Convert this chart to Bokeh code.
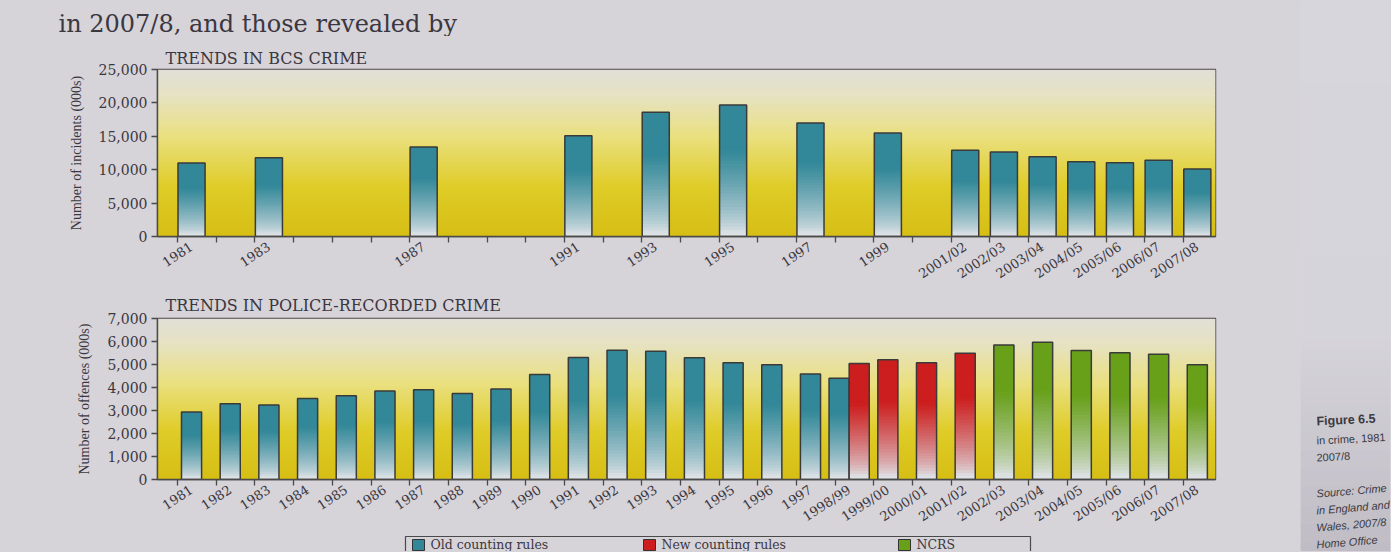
from bokeh.plotting import figure
from bokeh.models import Range1d, FixedTicker, NumeralTickFormatter, ColumnDataSource
from bokeh.layouts import column, row
from bokeh.embed import file_html
from bokeh.resources import INLINE
from bokeh.core.properties import value

# ---------------- data ----------------
intro_text = "in 2007/8, and those revealed by"
bcs_title = "TRENDS IN BCS CRIME"
prc_title = "TRENDS IN POLICE-RECORDED CRIME"
bcs_ylabel = "Number of incidents (000s)"
prc_ylabel = "Number of offences (000s)"

bcs_periods = ["1981", "1983", "1987", "1991", "1993", "1995", "1997", "1999",
               "2001/02", "2002/03", "2003/04", "2004/05", "2005/06", "2006/07", "2007/08"]
bcs_incidents = [11000, 11800, 13400, 15100, 18600, 19700, 17000, 15500,
                 12900, 12650, 11950, 11200, 11050, 11400, 10100]

prc_old_periods = ["1981", "1982", "1983", "1984", "1985", "1986", "1987", "1988", "1989",
                   "1990", "1991", "1992", "1993", "1994", "1995", "1996", "1997", "1998/99"]
prc_old_offences = [2940, 3290, 3240, 3520, 3640, 3850, 3900, 3740, 3930,
                    4560, 5300, 5620, 5580, 5290, 5080, 4990, 4590, 4400]
prc_new_periods = ["1998/99", "1999/00", "2000/01", "2001/02"]
prc_new_offences = [5040, 5210, 5080, 5490]
prc_ncrs_periods = ["2002/03", "2003/04", "2004/05", "2005/06", "2006/07", "2007/08"]
prc_ncrs_offences = [5850, 5970, 5610, 5510, 5450, 4990]

bcs_yticks = [0, 5000, 10000, 15000, 20000, 25000]
prc_yticks = [0, 1000, 2000, 3000, 4000, 5000, 6000, 7000]

legend_labels = ["Old counting rules", "New counting rules", "NCRS"]

caption_head = "Figure 6.5"
caption_lines = ["in crime, 1981", "2007/8"]
source_lines = ["Source: Crime", "in England and", "Wales, 2007/8", "Home Office"]

FIRST_YEAR = 1981
N_SLOTS = 27

# ---------------- styling / layout (pixels) ----------------
PAGE = "#d6d3d9"
INK = "#3b3740"
SERIF = "DejaVu Serif"
TEAL = (50, 136, 152)
RED = (204, 30, 30)
GREEN = (104, 160, 26)
LIGHT = (222, 226, 230)
BG_STOPS = [(0.0, (214, 190, 20)), (0.3, (223, 204, 40)), (0.6, (234, 224, 128)),
            (0.85, (230, 226, 196)), (1.0, (225, 223, 214))]
SIDE_STOPS = [(0.0, (216, 214, 221)), (0.6, (214, 212, 219)), (1.0, (192, 188, 197))]
TOTAL_W, TOTAL_H = 1390, 551
CHART_W = 1300
FRAME_L, FRAME_R = 157, 1215
INTRO_H = 36
Y_SPLIT = 290
P1_TOP, P1_BOT = 69, 238          # frame of the BCS chart (page pixels)
P2_TOP, P2_BOT = 318, 483         # frame of the police chart
LEG_TOP = 533


def slot(period):
    return int(period[:4]) - FIRST_YEAR


def hexc(c):
    return "#%02x%02x%02x" % tuple(int(round(v)) for v in c)


def mix(c1, c2, t):
    return tuple(a + (b - a) * t for a, b in zip(c1, c2))


def stop_color(stops, t):
    for (t0, c0), (t1, c1) in zip(stops[:-1], stops[1:]):
        if t <= t1:
            return mix(c0, c1, (t - t0) / (t1 - t0))
    return stops[-1][1]


def add_background(p, ymax, n=80):
    b, t, c = [], [], []
    for i in range(n):
        b.append(ymax * i / n)
        t.append(min(ymax, ymax * (i + 1.8) / n))
        c.append(hexc(stop_color(BG_STOPS, (i + 0.5) / n)))
    src = ColumnDataSource(dict(bottom=b, top=t, color=c))
    p.quad(left=p.x_range.start, right=p.x_range.end, bottom="bottom", top="top",
           fill_color="color", line_color=None, source=src)


def add_bars(p, periods, values, width, base, offsets=None, n=40):
    if offsets is None:
        offsets = [0.0] * len(periods)
    xs = [slot(q) + o for q, o in zip(periods, offsets)]
    L, R, B, T, C = [], [], [], [], []
    for x, v in zip(xs, values):
        for i in range(n):
            tt = (i + 0.5) / n
            f = min(1.0, max(0.0, (tt - 0.03) / 0.62)) ** 0.75
            L.append(x - width / 2)
            R.append(x + width / 2)
            B.append(v * i / n)
            T.append(min(v, v * (i + 1.8) / n))
            C.append(hexc(mix(LIGHT, base, f)))
    p.quad(left="l", right="r", bottom="b", top="t", fill_color="c", line_color=None,
           source=ColumnDataSource(dict(l=L, r=R, b=B, t=T, c=C)))
    p.quad(left=[x - width / 2 for x in xs], right=[x + width / 2 for x in xs],
           bottom=0, top=values, fill_color=None, line_color="#3a3a3a", line_width=1.5)


def make_fig(fig_top, fig_bot, frame_top, frame_bot, ymax, title, standoff):
    p = figure(width=CHART_W, height=fig_bot - fig_top, x_range=Range1d(-0.88, 26.47),
               y_range=Range1d(0, ymax), output_backend="svg", toolbar_location=None,
               min_border_left=FRAME_L, min_border_right=CHART_W - FRAME_R,
               min_border_top=frame_top - fig_top, min_border_bottom=fig_bot - frame_bot,
               title=title)
    p.border_fill_color = PAGE
    p.background_fill_color = None
    p.outline_line_color = "#4a4a4a"
    p.outline_line_width = 1.4
    p.grid.visible = False
    t = p.title
    t.align = "left"
    t.offset = 8
    t.standoff = standoff
    t.text_font = SERIF
    t.text_font_size = "16px"
    t.text_font_style = "normal"
    t.text_color = INK
    return p


def style_axes(p, yticks, ylabel, tick_periods):
    xa = p.xaxis[0]
    xa.ticker = FixedTicker(ticks=[slot(q) for q in tick_periods],
                            minor_ticks=[s - 0.36 for s in range(N_SLOTS)])
    xa.major_label_overrides = {slot(q): q for q in tick_periods}
    xa.major_tick_out = 0
    xa.major_tick_in = 0
    xa.minor_tick_out = 6
    xa.minor_tick_in = 0
    xa.minor_tick_line_color = "#4a4a4a"
    xa.minor_tick_line_width = 1.3
    xa.axis_line_color = "#4a4a4a"
    xa.axis_line_width = 1.4
    xa.major_label_orientation = 0.58
    xa.major_label_standoff = 3
    xa.major_label_text_font = SERIF
    xa.major_label_text_font_size = "13px"
    xa.major_label_text_color = INK

    ya = p.yaxis[0]
    ya.ticker = FixedTicker(ticks=yticks, minor_ticks=[])
    ya.formatter = NumeralTickFormatter(format="0,0")
    ya.major_tick_out = 6
    ya.major_tick_in = 0
    ya.minor_tick_out = 0
    ya.major_tick_line_color = "#4a4a4a"
    ya.major_tick_line_width = 1.3
    ya.axis_line_color = "#4a4a4a"
    ya.axis_line_width = 1.4
    ya.major_label_text_font = SERIF
    ya.major_label_text_font_size = "14px"
    ya.major_label_text_color = INK
    ya.major_label_standoff = 4
    ya.axis_label = ylabel
    ya.axis_label_text_font = "Liberation Serif"
    ya.axis_label_text_font_style = "normal"
    ya.axis_label_text_font_size = "14px"
    ya.axis_label_text_color = INK
    ya.axis_label_standoff = 12


def text_fig(x0, y0, x1, y1, fill=PAGE):
    """A blank strip whose data units are page pixels (y grows downward)."""
    p = figure(width=x1 - x0, height=y1 - y0, x_range=Range1d(x0, x1),
               y_range=Range1d(y1, y0), output_backend="svg",
               toolbar_location=None, x_axis_location=None, y_axis_location=None,
               min_border=0)
    try:
        p.frame_align = False      # keep the strip's frame = its whole canvas
    except AttributeError:
        pass
    p.grid.visible = False
    p.outline_line_color = None
    p.background_fill_color = fill
    p.border_fill_color = fill
    return p


# ---------------- intro line (running text of the page) ----------------
pi = text_fig(0, 0, CHART_W, INTRO_H)
pi.text(x=[58], y=[23], text=[intro_text], text_font=value(SERIF), text_font_size="24px",
        text_color=INK, text_baseline="alphabetic")

# ---------------- top chart: BCS ----------------
p1 = make_fig(INTRO_H, Y_SPLIT, P1_TOP, P1_BOT, bcs_yticks[-1], bcs_title, 3)
add_background(p1, bcs_yticks[-1])
add_bars(p1, bcs_periods, bcs_incidents, 0.7, TEAL)
style_axes(p1, bcs_yticks, bcs_ylabel, bcs_periods)

# ---------------- bottom chart: police recorded ----------------
p2 = make_fig(Y_SPLIT, LEG_TOP, P2_TOP, P2_BOT, prc_yticks[-1], prc_title, 7)
add_background(p2, prc_yticks[-1])
BW = 0.52
old_off = [-BW / 2 if q in prc_new_periods else 0.0 for q in prc_old_periods]
new_off = [BW / 2 if q in prc_old_periods else 0.0 for q in prc_new_periods]
add_bars(p2, prc_old_periods, prc_old_offences, BW, TEAL, old_off)
add_bars(p2, prc_new_periods, prc_new_offences, BW, RED, new_off)
add_bars(p2, prc_ncrs_periods, prc_ncrs_offences, BW, GREEN)
all_periods = []
for q in prc_old_periods + prc_new_periods + prc_ncrs_periods:
    if q not in all_periods:
        all_periods.append(q)
style_axes(p2, prc_yticks, prc_ylabel, all_periods)

# ---------------- legend strip (runs off the page bottom, as in the photo) ---------
pl = text_fig(0, LEG_TOP, CHART_W, TOTAL_H)
pl.quad(left=[405], right=[1030], top=[536], bottom=[580],
        fill_color=None, line_color="#4a4a4a", line_width=1.2)
sq_x = [412, 643, 898]
leg_cols = [hexc(c) for c in (TEAL, RED, GREEN)]
pl.quad(left=sq_x, right=[x + 12 for x in sq_x], top=[539] * 3, bottom=[550] * 3,
        fill_color=leg_cols, line_color="#333333", line_width=1)
pl.text(x=[x + 18 for x in sq_x], y=[544] * 3, text=legend_labels,
        text_font=value(SERIF), text_font_size="12.5px", text_color=INK,
        text_baseline="middle")

# ---------------- side caption (page margin) ----------------
pc = text_fig(CHART_W, 0, TOTAL_W, TOTAL_H, fill=hexc(SIDE_STOPS[0][1]))
nb = 60
pc.quad(left=CHART_W, right=TOTAL_W,
        top=[TOTAL_H * i / nb for i in range(nb)],
        bottom=[min(TOTAL_H, TOTAL_H * (i + 1.8) / nb) for i in range(nb)],
        fill_color=[hexc(stop_color(SIDE_STOPS, (i + 0.5) / nb)) for i in range(nb)],
        line_color=None)
pc.text(x=[1316], y=[421], text=[caption_head], text_font=value("Liberation Sans"),
        text_font_style="bold", text_font_size="12.5px", text_color="#3a3a40",
        text_baseline="middle", angle=0.05)
pc.text(x=[1316] * len(caption_lines), y=[440 + 17 * i for i in range(len(caption_lines))],
        text=caption_lines, text_font=value("Liberation Sans"), text_font_size="11px",
        text_color="#3a3a40", text_baseline="middle", angle=0.05)
pc.text(x=[1316] * len(source_lines), y=[493 + 17 * i for i in range(len(source_lines))],
        text=source_lines, text_font=value("Liberation Sans"), text_font_style="italic",
        text_font_size="11px", text_color="#3a3a40", text_baseline="middle", angle=0.08)

layout = row(column(pi, p1, p2, pl, spacing=0), pc, spacing=0)
html = file_html(layout, INLINE)
html = html.replace("</head>", "<style>body{background-color:%s;}</style></head>" % PAGE, 1)
open("out.html", "w").write(html)
